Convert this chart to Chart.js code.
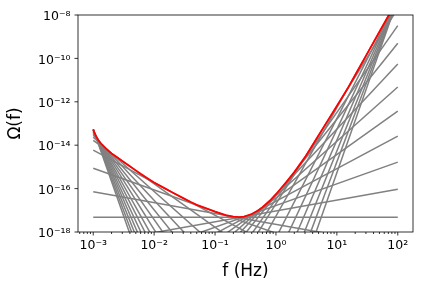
<!DOCTYPE html>
<html>
<head>
<meta charset="utf-8">
<script src="https://cdn.jsdelivr.net/npm/chart.js@4.4.1/dist/chart.umd.min.js"></script>
<style>
  html, body { margin: 0; padding: 0; background: #ffffff; }
  canvas { display: block; }
</style>
</head>
<body>
<canvas id="c" width="423" height="289"></canvas>
<script>
// ---------- data ----------
// power-law lines: each spans f = 1e-3 .. 1e2 Hz
const lineFreqs = [1e-3, 1e2];
const slopes = [-8, -7.5, -7, -6.5, -6, -5.5, -5, -4.5, -4, -3.5, -3, -2.5, -2, -1.5, -1, -0.5,
                0, 0.5, 1, 1.5, 2, 2.5, 3, 3.5, 4, 4.5, 5, 5.5, 6, 6.5, 7, 7.5, 8];
// Omega of each line at f = 1e-3 Hz
const lineStartOmega = [5.37e-14, 5.31e-14, 5.25e-14, 5.13e-14, 4.90e-14, 4.68e-14, 4.37e-14, 4.07e-14,
                        3.72e-14, 3.31e-14, 2.88e-14, 2.34e-14, 1.66e-14, 5.89e-15, 8.71e-16, 7.08e-17,
                        4.79e-18, 2.95e-19, 1.66e-20, 8.32e-22, 3.72e-23, 1.51e-24, 5.50e-26, 1.58e-27,
                        3.24e-29, 6.31e-31, 5.37e-33, 1.70e-35, 5.37e-38, 1.70e-40, 5.37e-43, 1.70e-45, 5.37e-48];
// Omega of each line at f = 1e2 Hz
const lineEndOmega = [5.37e-54, 1.68e-51, 5.25e-49, 1.62e-46, 4.90e-44, 1.48e-41, 4.37e-39, 1.29e-36,
                      3.72e-34, 1.05e-31, 2.88e-29, 7.41e-27, 1.66e-24, 1.86e-22, 8.71e-21, 2.24e-19,
                      4.79e-18, 9.33e-17, 1.66e-15, 2.63e-14, 3.72e-13, 4.79e-12, 5.50e-11, 5.01e-10,
                      3.24e-9, 2.00e-8, 5.37e-8, 5.37e-8, 5.37e-8, 5.37e-8, 5.37e-8, 5.37e-8, 5.37e-8];

// red envelope (power-law integrated sensitivity)
const plsFreqs = [1e-3, 1.05e-3, 1.1e-3, 1.2e-3, 1.3e-3, 1.4e-3, 1.6e-3, 2e-3, 2.5e-3, 3e-3, 4e-3, 5e-3,
                  6e-3, 8e-3, 1e-2, 1.5e-2, 2e-2, 3e-2, 4e-2, 5e-2, 7e-2, 0.1, 0.15, 0.2, 0.25, 0.3, 0.4,
                  0.5, 0.6, 0.8, 1, 1.5, 2, 3, 4, 5, 7, 10, 15, 20, 30, 50, 70, 100];
const plsOmega = [5.37e-14, 3.72e-14, 2.75e-14, 1.78e-14, 1.32e-14, 1.05e-14, 7.24e-15, 4.17e-15, 2.69e-15,
                  1.86e-15, 1.07e-15, 6.92e-16, 4.79e-16, 2.82e-16, 1.905e-16, 1.02e-16, 6.61e-17, 3.63e-17,
                  2.40e-17, 1.78e-17, 1.26e-17, 8.71e-18, 6.03e-18, 5.13e-18, 4.90e-18, 5.13e-18, 6.76e-18,
                  9.55e-18, 1.38e-17, 2.82e-17, 5.50e-17, 2.09e-16, 5.75e-16, 2.82e-15, 1.02e-14, 2.82e-14,
                  1.29e-13, 6.46e-13, 4.07e-12, 1.72e-11, 1.30e-10, 1.68e-9, 9.02e-9, 5.37e-8];

// ticks
const xTickValues = [1e-3, 1e-2, 1e-1, 1, 10, 100];
const xTickLabels = ['10\u207B\u00B3', '10\u207B\u00B2', '10\u207B\u00B9', '10\u2070', '10\u00B9', '10\u00B2'];
const xMinorTicks = [6e-4, 7e-4, 8e-4, 9e-4,
                     2e-3, 3e-3, 4e-3, 5e-3, 6e-3, 7e-3, 8e-3, 9e-3,
                     2e-2, 3e-2, 4e-2, 5e-2, 6e-2, 7e-2, 8e-2, 9e-2,
                     0.2, 0.3, 0.4, 0.5, 0.6, 0.7, 0.8, 0.9,
                     2, 3, 4, 5, 6, 7, 8, 9,
                     20, 30, 40, 50, 60, 70, 80, 90];
const yTickValues = [1e-18, 1e-16, 1e-14, 1e-12, 1e-10, 1e-8];
const yTickLabels = ['10\u207B\u00B9\u2078', '10\u207B\u00B9\u2076', '10\u207B\u00B9\u2074',
                     '10\u207B\u00B9\u00B2', '10\u207B\u00B9\u2070', '10\u207B\u2078'];

// ---------- datasets ----------
const datasets = [];
datasets.push({
  data: plsFreqs.map((f, i) => ({ x: f, y: plsOmega[i] })),
  borderColor: '#ff0000',
  borderWidth: 1.8,
  pointRadius: 0,
  tension: 0,
  fill: false,
  order: 0
});
slopes.forEach((b, i) => {
  datasets.push({
    data: [{ x: lineFreqs[0], y: lineStartOmega[i] }, { x: lineFreqs[1], y: lineEndOmega[i] }],
    borderColor: '#808080',
    borderWidth: 1.5,
    pointRadius: 0,
    tension: 0,
    fill: false,
    order: 1
  });
});

const tickFont = { family: "'DejaVu Sans', sans-serif", size: 12.5 };
const titleFont = { family: "'DejaVu Sans', sans-serif", size: 17 };

const framePlugin = {
  id: 'frame',
  afterDraw(chart) {
    const { ctx, chartArea: a, scales } = chart;
    const xs = scales.x, ys = scales.y;
    ctx.save();
    ctx.strokeStyle = '#000000';
    ctx.lineWidth = 0.8;
    ctx.strokeRect(a.left, a.top, a.right - a.left, a.bottom - a.top);
    ctx.beginPath();
    xTickValues.forEach(v => {
      const px = xs.getPixelForValue(v);
      ctx.moveTo(px, a.bottom); ctx.lineTo(px, a.bottom + 3.5);
    });
    xMinorTicks.forEach(v => {
      const px = xs.getPixelForValue(v);
      ctx.moveTo(px, a.bottom); ctx.lineTo(px, a.bottom + 2);
    });
    yTickValues.forEach(v => {
      const py = ys.getPixelForValue(v);
      ctx.moveTo(a.left, py); ctx.lineTo(a.left - 3.5, py);
    });
    ctx.stroke();
    ctx.restore();
  }
};

new Chart(document.getElementById('c'), {
  type: 'line',
  data: { datasets },
  plugins: [framePlugin],
  options: {
    responsive: false,
    animation: false,
    devicePixelRatio: 1,
    events: [],
    layout: { padding: { left: 0, right: 10, top: 15, bottom: 0 } },
    plugins: { legend: { display: false }, tooltip: { enabled: false } },
    scales: {
      x: {
        type: 'logarithmic',
        min: 5.623e-4,
        max: 177.8,
        grid: { display: false, drawTicks: false },
        border: { display: false },
        afterBuildTicks: (s) => { s.ticks = xTickValues.map(v => ({ value: v })); },
        afterFit: (s) => { s.height = 57; },
        ticks: {
          autoSkip: false, maxRotation: 0, minRotation: 0,
          padding: 6, color: '#000000', font: tickFont,
          callback: (v, i) => xTickLabels[i]
        },
        title: { display: true, text: 'f (Hz)', color: '#000000', font: titleFont, padding: { top: 0, bottom: 7 } }
      },
      y: {
        type: 'logarithmic',
        min: 1e-18,
        max: 1e-8,
        grid: { display: false, drawTicks: false },
        border: { display: false },
        afterBuildTicks: (s) => { s.ticks = yTickValues.map(v => ({ value: v })); },
        afterFit: (s) => { s.width = 78; },
        ticks: {
          autoSkip: false, padding: 7.5, color: '#000000', font: tickFont, labelOffset: 2,
          callback: (v, i) => yTickLabels[i]
        },
        title: { display: true, text: '\u03A9(f)', color: '#000000', font: titleFont, padding: { top: 5, bottom: 0 } }
      }
    }
  }
});
</script>
</body>
</html>
